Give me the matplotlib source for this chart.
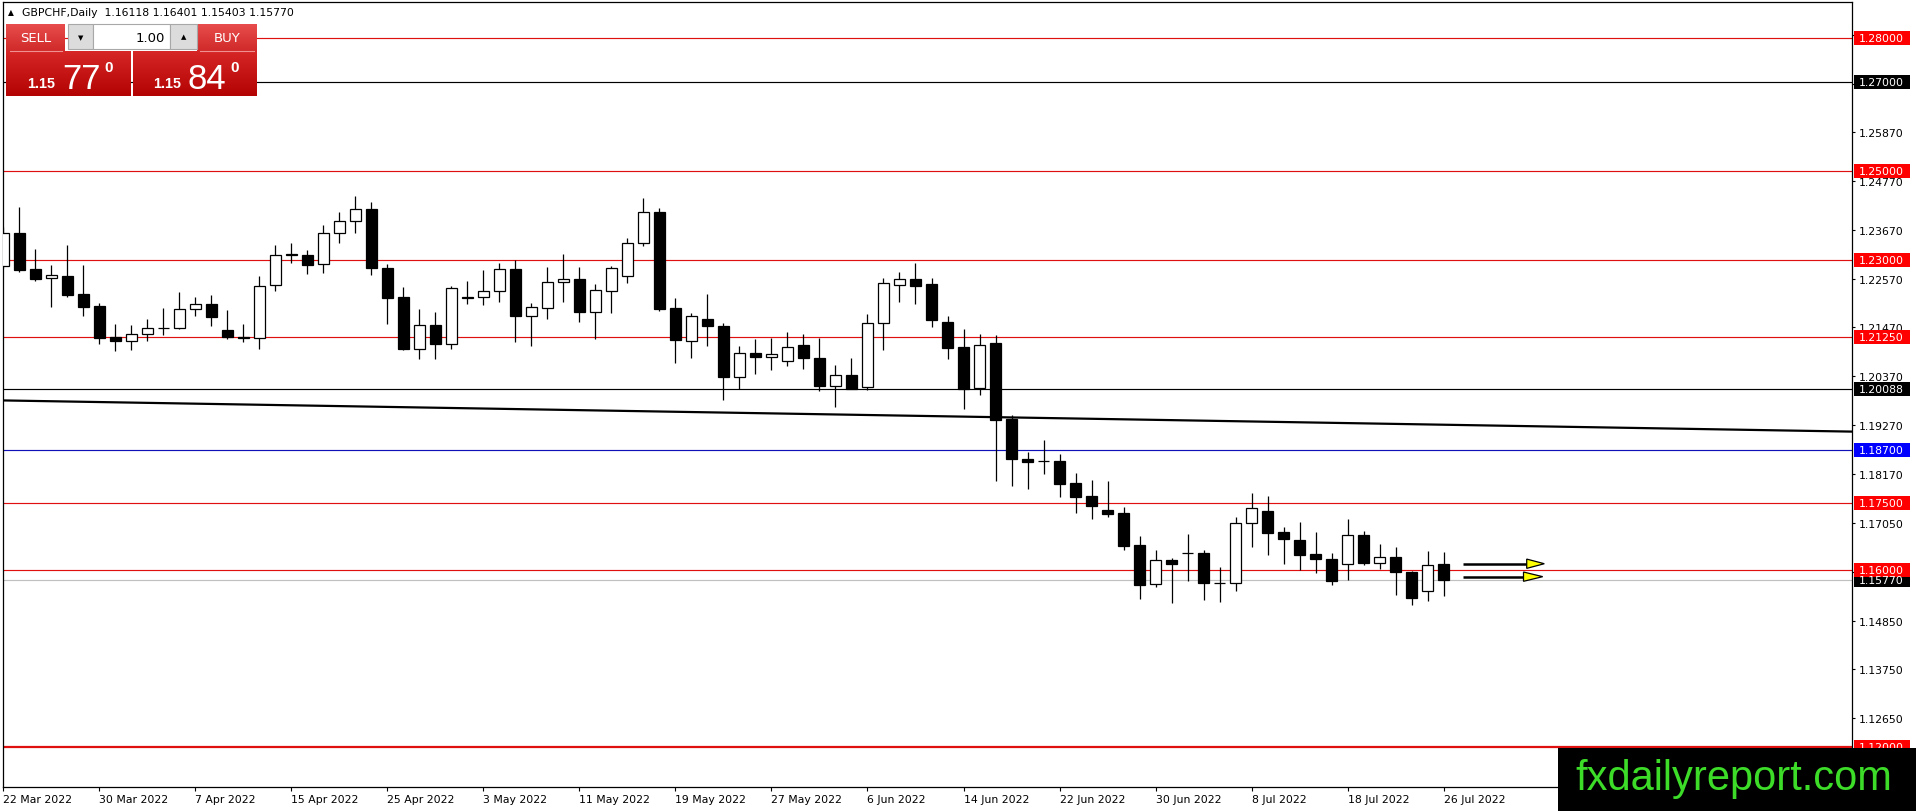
import numpy as np
import pandas as pd
import matplotlib
matplotlib.use("Agg")
import matplotlib.pyplot as plt
from matplotlib.patches import Rectangle, Polygon
from matplotlib.colors import LinearSegmentedColormap
from matplotlib.transforms import blended_transform_factory

plt.rcParams["font.family"] = ["DejaVu Sans"]

# ---- data ----
symbol = "GBPCHF,Daily"
dates = pd.bdate_range("2022-03-22", periods=91)

opens = [1.22843, 1.23606, 1.22783, 1.22574, 1.22626, 1.22222, 1.21953, 1.21242, 1.21160, 1.21317,
         1.21448, 1.21444, 1.21878, 1.21998, 1.21414, 1.21257, 1.21227, 1.22417, 1.23110, 1.23112,
         1.22888, 1.23606, 1.23875, 1.24144, 1.22820, 1.22147, 1.20981, 1.21519, 1.21085, 1.22162,
         1.22147, 1.22282, 1.22776, 1.21736, 1.21916, 1.22484, 1.22551, 1.21826, 1.22297, 1.22619,
         1.23381, 1.24077, 1.21901, 1.21153, 1.21654, 1.21497, 1.20352, 1.20891, 1.20801, 1.20720,
         1.21066, 1.20773, 1.20156, 1.20389, 1.20133, 1.21578, 1.22436, 1.22556, 1.22443, 1.21585,
         1.21021, 1.20103, 1.21111, 1.19396, 1.18493, 1.18445, 1.18453, 1.17950, 1.17657, 1.17343,
         1.17276, 1.16560, 1.15672, 1.16224, 1.16370, 1.16381, 1.15698, 1.15701, 1.17045, 1.17336,
         1.16851, 1.16672, 1.16360, 1.16248, 1.16120, 1.16788, 1.16150, 1.16285, 1.15955, 1.15520,
         1.16118]
highs = [1.23740, 1.24182, 1.23232, 1.22873, 1.23322, 1.22873, 1.22020, 1.21549, 1.21527, 1.21661,
         1.21908, 1.22275, 1.22147, 1.22200, 1.21863, 1.21549, 1.22626, 1.23322, 1.23381, 1.23209,
         1.23770, 1.24077, 1.24443, 1.24301, 1.22888, 1.22372, 1.21878, 1.21818, 1.22394, 1.22506,
         1.22761, 1.22918, 1.22993, 1.22020, 1.22828, 1.23120, 1.22828, 1.22447, 1.22858, 1.23479,
         1.24399, 1.24167, 1.22125, 1.21796, 1.22222, 1.21564, 1.21048, 1.21213, 1.21235, 1.21360,
         1.21315, 1.21224, 1.20615, 1.20773, 1.21766, 1.22579, 1.22714, 1.22917, 1.22579, 1.21721,
         1.21427, 1.21315, 1.21292, 1.19486, 1.18659, 1.18924, 1.18610, 1.18180, 1.18020, 1.17993,
         1.17410, 1.16754, 1.16448, 1.16269, 1.16806, 1.16448, 1.16067, 1.17179, 1.17724, 1.17657,
         1.16955, 1.17082, 1.16840, 1.16383, 1.17148, 1.16870, 1.16585, 1.16510, 1.15960, 1.16428,
         1.16401]
lows = [1.22820, 1.22723, 1.22521, 1.21938, 1.22162, 1.21736, 1.21085, 1.20928, 1.20951, 1.21153,
        1.21287, 1.21422, 1.21736, 1.21489, 1.21198, 1.21130, 1.20973, 1.22297, 1.22925, 1.22678,
        1.22701, 1.23374, 1.23598, 1.22656, 1.21534, 1.20958, 1.20749, 1.20749, 1.20973, 1.21998,
        1.21983, 1.22050, 1.21130, 1.21055, 1.21669, 1.22050, 1.21601, 1.21198, 1.21796, 1.22469,
        1.23299, 1.21841, 1.20674, 1.20771, 1.21055, 1.19829, 1.20076, 1.20427, 1.20502, 1.20600,
        1.20525, 1.20036, 1.19674, 1.20080, 1.20058, 1.20961, 1.22044, 1.21992, 1.21480, 1.20750,
        1.19622, 1.19945, 1.18004, 1.17891, 1.17831, 1.18165, 1.17650, 1.17269, 1.17149, 1.17187,
        1.16455, 1.15336, 1.15604, 1.15246, 1.15754, 1.15313, 1.15269, 1.15522, 1.16522, 1.16321,
        1.16119, 1.16000, 1.15918, 1.15648, 1.15760, 1.16113, 1.16023, 1.15438, 1.15198, 1.15288,
        1.15403]
closes = [1.23606, 1.22768, 1.22566, 1.22648, 1.22207, 1.21938, 1.21220, 1.21160, 1.21317, 1.21452,
          1.21456, 1.21878, 1.21998, 1.21714, 1.21250, 1.21227, 1.22394, 1.23112, 1.23114, 1.22880,
          1.23606, 1.23875, 1.24144, 1.22813, 1.22140, 1.20973, 1.21519, 1.21085, 1.22349, 1.22140,
          1.22282, 1.22776, 1.21736, 1.21923, 1.22484, 1.22551, 1.21826, 1.22304, 1.22798, 1.23381,
          1.24077, 1.21886, 1.21175, 1.21721, 1.21489, 1.20345, 1.20891, 1.20794, 1.20868, 1.21036,
          1.20780, 1.20148, 1.20404, 1.20088, 1.21578, 1.22481, 1.22571, 1.22406, 1.21638, 1.21006,
          1.20088, 1.21081, 1.19381, 1.18493, 1.18433, 1.18450, 1.17940, 1.17642, 1.17440, 1.17261,
          1.16545, 1.15649, 1.16224, 1.16119, 1.16376, 1.15694, 1.15704, 1.17045, 1.17403, 1.16836,
          1.16687, 1.16343, 1.16233, 1.15738, 1.16788, 1.16143, 1.16285, 1.15948, 1.15355, 1.16105,
          1.15770]

# horizontal levels drawn on the chart
levels = [1.28000, 1.27000, 1.25000, 1.23000, 1.21250, 1.20088, 1.18700, 1.17500, 1.16000, 1.12000]
level_kind = ["red", "black", "red", "red", "red", "black", "blue", "red", "red", "red"]
bid = 1.15770
ask = 1.15840

# right price scale
price_ticks = [1.12650, 1.13750, 1.14850, 1.15950, 1.17050, 1.18170, 1.19270, 1.20370,
               1.21470, 1.22570, 1.23670, 1.24770, 1.25870, 1.26970, 1.28070]

# trend line (bar index, price)
trend_bars = [0, 90]
trend_prices = [1.19820, 1.19272]

# two arrows to the right of the last bar
arrow_from = [91.2, 91.2]
arrow_to = [95.2, 95.0]
arrow_tip = [96.3, 96.2]
arrow_price = [1.16135, 1.15843]

# ---- figure ----
W, H = 1916, 812
fig = plt.figure(figsize=(W / 100, H / 100), dpi=100)
ax = fig.add_axes([3 / W, (H - 788) / H, (1852 - 3) / W, (788 - 3) / H])

line_col = {"red": "#e01010", "black": "black", "blue": "#1010b8"}
box_col = {"red": "#ff0000", "black": "black", "blue": "#0000ff"}

for lv, kind in zip(levels, level_kind):
    lw = 1.6 if lv == 1.12 else 0.85
    ax.axhline(lv, color=line_col[kind], lw=lw, zorder=1)
ax.axhline(bid, color="#c0c0c0", lw=0.85, zorder=1)

ax.axline((trend_bars[0], trend_prices[0]), (trend_bars[1], trend_prices[1]),
          color="black", lw=1.6, zorder=2)

# candles
x = np.arange(len(opens))
o = np.array(opens)
hi = np.array(highs)
lo = np.array(lows)
c = np.array(closes)
up = c >= o
ax.vlines(x, lo, hi, color="black", lw=0.9, zorder=3)
body_lo = np.minimum(o, c)
body_h = np.maximum(np.abs(c - o), 0.00002)
ax.bar(x, body_h, bottom=body_lo, width=0.66, color=np.where(up, "white", "black"),
       edgecolor="black", lw=0.9, zorder=4)

# arrows
for x0, x1, xt, p in zip(arrow_from, arrow_to, arrow_tip, arrow_price):
    ax.plot([x0, x1], [p, p], color="black", lw=1.8, zorder=5, solid_capstyle="butt")
    dh = 0.00105
    ax.add_patch(Polygon([[x1, p + dh], [x1, p - dh], [xt, p]], closed=True,
                         fc="#ffff00", ec="black", lw=0.9, zorder=6))

ax.set_xlim(-0.03, 115.53)
ax.set_ylim(1.11096, 1.28812)

# axes look
for s in ax.spines.values():
    s.set_color("black")
    s.set_linewidth(0.9)

ax.yaxis.tick_right()
ax.set_yticks(price_ticks)
ax.set_yticklabels([f"{v:.5f}" for v in price_ticks])
ax.tick_params(axis="y", direction="out", length=2.5, width=0.8, pad=2.5, labelsize=7.8, colors="black")

tick_idx = x[::6]
ax.set_xticks(tick_idx)
ax.set_xticklabels([f"{dates[i].day} {dates[i].strftime('%b %Y')}" for i in tick_idx])
for t in ax.get_xticklabels():
    t.set_horizontalalignment("left")
ax.tick_params(axis="x", direction="out", length=3, width=0.8, pad=2, labelsize=7.8)

# coloured price boxes on the scale
trans = blended_transform_factory(ax.transAxes, ax.transData)
ax_w_px = 1852 - 3
px_price = (1.28812 - 1.11096) / (788 - 3)
box_list = [(bid, "black")] + list(zip(levels, level_kind))
for lv, kind in box_list:
    ax.add_patch(Rectangle((1 + 2 / ax_w_px, lv - 7 * px_price), 56 / ax_w_px, 14 * px_price,
                           transform=trans, fc=box_col[kind], ec="none", clip_on=False, zorder=10))
    ax.text(1 + 7 / ax_w_px, lv, f"{lv:.5f}", transform=trans, color="white", fontsize=7.8,
            va="center", ha="left", clip_on=False, zorder=11)

# ---- overlay: header, trade panel, watermark ----
ov = fig.add_axes([0, 0, 1, 1], zorder=20)
ov.patch.set_alpha(0)


def grad_box(x0, y0, x1, y1, c_top, c_bot):
    cmap = LinearSegmentedColormap.from_list("g", [c_top, c_bot])
    ov.imshow(np.linspace(0, 1, 60).reshape(-1, 1), cmap=cmap, extent=(x0, x1, y1, y0),
              aspect="auto", interpolation="bilinear", zorder=1)


ov.text(11, 13, "\u25b2", fontsize=5.5, ha="center", va="center")
ov.text(22, 13, f"{symbol}  {opens[-1]:.5f} {highs[-1]:.5f} {lows[-1]:.5f} {closes[-1]:.5f}",
        fontsize=7.8, va="center", ha="left")

# sell / buy buttons
grad_box(6, 25, 65, 52, "#e84c4c", "#d02a2a")
grad_box(197, 25, 257, 52, "#e84c4c", "#d02a2a")
grad_box(6, 52, 131, 97, "#d62626", "#b30303")
grad_box(133, 52, 257, 97, "#d62626", "#b30303")
ov.plot([10, 62], [52, 52], color="#f19090", lw=0.8, zorder=2)
ov.plot([200, 254], [52, 52], color="#f19090", lw=0.8, zorder=2)
ov.text(35.5, 38.5, "SELL", color="white", fontsize=9.5, ha="center", va="center", zorder=3)
ov.text(227, 38.5, "BUY", color="white", fontsize=9.5, ha="center", va="center", zorder=3)

# lot spinner
ov.add_patch(Rectangle((68, 25), 25, 25, fc="#dcdcdc", ec="#a8a8a8", lw=0.8, zorder=2))
ov.add_patch(Rectangle((93, 25), 77, 25, fc="white", ec="#a8a8a8", lw=0.8, zorder=2))
ov.add_patch(Rectangle((170, 25), 27, 25, fc="#dcdcdc", ec="#a8a8a8", lw=0.8, zorder=2))
ov.text(80.5, 38, "\u25bc", fontsize=5, ha="center", va="center", zorder=3)
ov.text(183.5, 37.5, "\u25b2", fontsize=5, ha="center", va="center", zorder=3)
ov.text(165, 38.5, "1.00", fontsize=9.5, ha="right", va="center", zorder=3)

arial = ["Liberation Sans", "DejaVu Sans"]
for px, price in [(27, bid), (153, ask)]:
    s = f"{price:.5f}"
    ov.text(px, 88, s[:4], color="white", fontsize=10.4, fontweight="bold",
            family=arial, ha="left", va="baseline", zorder=3)
    ov.text(px + 35, 89, s[4:6], color="white", fontsize=25, family=arial,
            ha="left", va="baseline", zorder=3)
    ov.text(px + 77, 72, s[6], color="white", fontsize=11, fontweight="bold", family=arial,
            ha="left", va="baseline", zorder=3)

# watermark
ov.add_patch(Rectangle((1558, 749), W - 1558, H - 749, fc="black", ec="none", zorder=2))
ov.text(1575, 790, "fxdailyreport.com", color="#3cdc28", fontsize=30,
        family=arial, ha="left", va="baseline", zorder=3)

ov.set_xlim(0, W)
ov.set_ylim(H, 0)
ov.axis("off")

fig.savefig("out.png", dpi=100)
